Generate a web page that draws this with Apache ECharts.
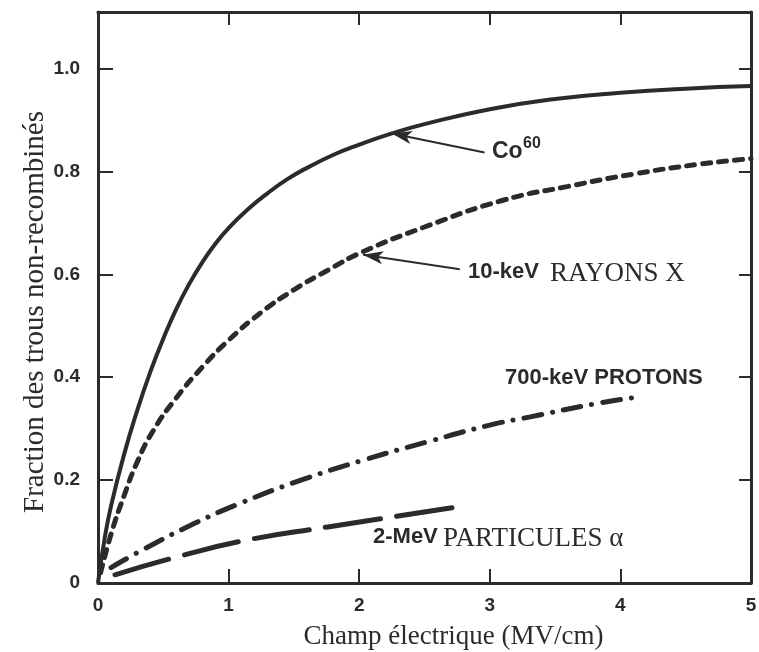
<!DOCTYPE html>
<html>
<head>
<meta charset="utf-8">
<style>
  html, body { margin: 0; padding: 0; background: #fff; }
  #chart { width: 759px; height: 652px; }
</style>
<script src="https://cdn.jsdelivr.net/npm/echarts@6/dist/echarts.min.js"></script>
</head>
<body>
<div id="chart"></div>
<script>
// Fraction of unrecombined holes vs. electric field, per radiation type
const co60 = [
  [0, 0], [0.05, 0.085], [0.1, 0.15], [0.2, 0.25], [0.3, 0.335], [0.4, 0.41],
  [0.5, 0.475], [0.6, 0.533], [0.7, 0.582], [0.8, 0.624], [0.9, 0.66], [1.0, 0.69],
  [1.15, 0.727], [1.3, 0.758], [1.45, 0.785], [1.6, 0.807], [1.8, 0.832],
  [2.0, 0.852], [2.25, 0.874], [2.5, 0.892], [3.0, 0.921], [3.5, 0.941],
  [4.0, 0.953], [4.5, 0.961], [5.0, 0.966]
];
const xray10keV = [
  [0.02, 0.02], [0.1, 0.095], [0.2, 0.17], [0.3, 0.235], [0.42, 0.295],
  [0.6, 0.36], [0.8, 0.42], [1.0, 0.472], [1.25, 0.526], [1.5, 0.57],
  [1.76, 0.608], [2.02, 0.643], [2.5, 0.692], [3.1, 0.744], [3.6, 0.771],
  [4.1, 0.795], [4.6, 0.814], [5.0, 0.825]
];
const protons700keV = [
  [0.1, 0.03], [0.36, 0.067], [0.74, 0.116], [1.07, 0.153], [1.51, 0.196],
  [2.02, 0.238], [2.53, 0.275], [3.0, 0.307], [3.31, 0.323], [3.82, 0.349], [4.15, 0.362]
];
const alpha2MeV = [
  [0.13, 0.016], [0.61, 0.051], [1.13, 0.083], [1.76, 0.109], [2.27, 0.129], [2.8, 0.15]
];

// Pointer arrows (tail, head) in data units
const co60Arrow = [[2.96, 0.837], [2.25, 0.874]];
const xrayArrow = [[2.77, 0.61], [2.03, 0.638]];

const xTicks = [0, 1, 2, 3, 4, 5];
const yTicks = [0, 0.2, 0.4, 0.6, 0.8, 1.0];

const INK = '#2b2b2b';
const SANS = '"Liberation Sans", Arial, Helvetica, sans-serif';
const SERIF = '"Liberation Serif", "Times New Roman", serif';

function arrow(pts) {
  return {
    silent: true,
    symbol: ['none', 'arrow'],
    symbolSize: [10, 20],
    label: { show: false },
    lineStyle: { type: 'solid', width: 2, color: INK },
    emphasis: { disabled: true },
    data: [[{ coord: pts[0] }, { coord: pts[1] }]]
  };
}

const frameAxis = { onZero: false, lineStyle: { color: INK, width: 3 } };
const tickIn = (len) => ({ show: true, inside: true, length: len, lineStyle: { color: INK, width: 2 } });

const chart = echarts.init(document.getElementById('chart'), null, { renderer: 'canvas' });

chart.setOption({
  animation: false,
  backgroundColor: '#ffffff',
  grid: { left: 98, right: 8, top: 12, bottom: 69, containLabel: false, outerBoundsMode: 'none' },
  xAxis: [
    {
      type: 'value', min: xTicks[0], max: xTicks[xTicks.length - 1], interval: 1,
      position: 'bottom',
      axisLine: frameAxis, axisTick: tickIn(14), splitLine: { show: false },
      axisLabel: {
        margin: 13, color: INK, fontFamily: SANS, fontWeight: 'bold', fontSize: 19,
        formatter: (v) => String(v)
      },
      name: 'Champ électrique (MV/cm)', nameLocation: 'middle', nameGap: 40,
      nameTextStyle: { fontFamily: SERIF, fontSize: 27, color: INK, padding: [0, 0, 0, 58] }
    },
    {
      type: 'value', min: xTicks[0], max: xTicks[xTicks.length - 1], interval: 1,
      position: 'top',
      axisLine: frameAxis, axisTick: tickIn(13), splitLine: { show: false },
      axisLabel: { show: false }
    }
  ],
  yAxis: [
    {
      type: 'value', min: 0, max: 1.11, interval: 0.2,
      position: 'left',
      axisLine: frameAxis, axisTick: tickIn(15), splitLine: { show: false },
      axisLabel: {
        margin: 18, color: INK, fontFamily: SANS, fontWeight: 'bold', fontSize: 19,
        showMaxLabel: false,
        formatter: (v) => (v === 0 ? '0' : v.toFixed(1))
      },
      name: 'Fraction des trous non-recombinés', nameLocation: 'middle', nameGap: 48,
      nameMoveOverlap: false,
      nameTextStyle: { fontFamily: SERIF, fontSize: 29, color: INK, padding: [0, 29, 0, 0] }
    },
    {
      type: 'value', min: 0, max: 1.11, interval: 0.2,
      position: 'right',
      axisLine: frameAxis, axisTick: tickIn(12), splitLine: { show: false },
      axisLabel: { show: false }
    }
  ],
  series: [
    {
      name: 'Co60', type: 'line', data: co60, smooth: 0.5,
      showSymbol: false, symbol: 'none',
      lineStyle: { color: INK, width: 4 },
      markLine: arrow(co60Arrow)
    },
    {
      name: '10-keV RAYONS X', type: 'line', data: xray10keV, smooth: 0.5,
      showSymbol: false, symbol: 'none',
      lineStyle: { color: INK, width: 5, type: [8, 8], cap: 'round' },
      markLine: arrow(xrayArrow)
    },
    {
      name: '700-keV PROTONS', type: 'line', data: protons700keV, smooth: 0.5,
      showSymbol: false, symbol: 'none',
      lineStyle: { color: INK, width: 5, type: [18, 11, 0.1, 11], cap: 'round' }
    },
    {
      name: '2-MeV PARTICULES α', type: 'line', data: alpha2MeV, smooth: 0.5,
      showSymbol: false, symbol: 'none',
      lineStyle: { color: INK, width: 5, type: [56, 16], cap: 'round' }
    }
  ],
  graphic: [
    { type: 'text', silent: true, style: { text: 'Co', x: 492, y: 152, fill: INK, font: 'bold 23px ' + SANS, verticalAlign: 'middle' } },
    { type: 'text', silent: true, style: { text: '60', x: 523, y: 144, fill: INK, font: 'bold 16px ' + SANS, verticalAlign: 'middle' } },
    { type: 'text', silent: true, style: { text: '10-keV', x: 468, y: 272, fill: INK, font: 'bold 22px ' + SANS, verticalAlign: 'middle' } },
    { type: 'text', silent: true, style: { text: 'RAYONS X', x: 550, y: 274, fill: INK, font: '27px ' + SERIF, verticalAlign: 'middle' } },
    { type: 'text', silent: true, style: { text: '700-keV PROTONS', x: 505, y: 378, fill: INK, font: 'bold 22px ' + SANS, verticalAlign: 'middle' } },
    { type: 'text', silent: true, style: { text: '2-MeV', x: 373, y: 537, fill: INK, font: 'bold 22px ' + SANS, verticalAlign: 'middle' } },
    { type: 'text', silent: true, style: { text: 'PARTICULES α', x: 443, y: 539, fill: INK, font: '27px ' + SERIF, verticalAlign: 'middle' } }
  ]
});
</script>
</body>
</html>
